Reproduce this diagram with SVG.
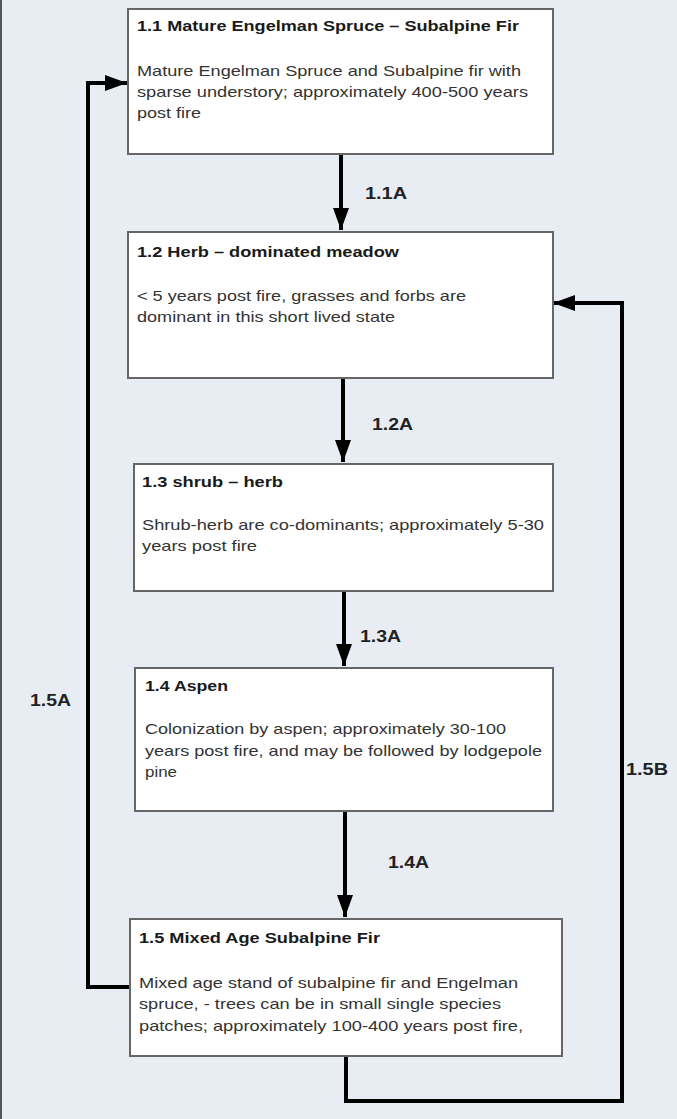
<svg xmlns="http://www.w3.org/2000/svg" width="677" height="1119" viewBox="0 0 677 1119">
<defs>
<marker id="ah" viewBox="0 0 11 8" refX="11" refY="4" markerWidth="5.5" markerHeight="4" markerUnits="strokeWidth" orient="auto">
<path d="M0,0 L11,4 L0,8 z" fill="#000"/>
</marker>
<style>
.box{fill:#ffffff;stroke:#666;stroke-width:2}
.t{font-family:"Liberation Sans",Arial,sans-serif;font-size:15px;font-weight:bold;fill:#1a1a1a}
.b{font-family:"Liberation Sans",Arial,sans-serif;font-size:15px;fill:#333}
.lbl{font-family:"Liberation Sans",Arial,sans-serif;font-size:16px;font-weight:bold;fill:#222}
.c{fill:none;stroke:#000;stroke-width:4}
</style>
</defs>
<rect x="0" y="0" width="677" height="1119" fill="#e8ecf3"/>
<line x1="1" y1="0" x2="1" y2="1119" stroke="#555" stroke-width="2"/>
<g id="connectors">
<path class="c" d="M341,154 V230" marker-end="url(#ah)"/>
<path class="c" d="M343,378 V462" marker-end="url(#ah)"/>
<path class="c" d="M344,591 V666" marker-end="url(#ah)"/>
<path class="c" d="M345,811 V917" marker-end="url(#ah)"/>
<path class="c" d="M130,987 H88 V83 H127" marker-end="url(#ah)"/>
<path class="c" d="M346,1056 V1101 H622 V303 H553" marker-end="url(#ah)"/>
<text class="lbl" x="365" y="199" textLength="42" lengthAdjust="spacingAndGlyphs">1.1A</text>
<text class="lbl" x="372" y="430" textLength="41" lengthAdjust="spacingAndGlyphs">1.2A</text>
<text class="lbl" x="360" y="642" textLength="41" lengthAdjust="spacingAndGlyphs">1.3A</text>
<text class="lbl" x="388" y="868" textLength="41" lengthAdjust="spacingAndGlyphs">1.4A</text>
<text class="lbl" x="30" y="706" textLength="41" lengthAdjust="spacingAndGlyphs">1.5A</text>
<text class="lbl" x="626" y="775" textLength="42" lengthAdjust="spacingAndGlyphs">1.5B</text>
</g>
<g id="n11">
<rect class="box" x="128" y="9" width="425" height="145"/>
<text class="t" x="137" y="31" textLength="382" lengthAdjust="spacingAndGlyphs">1.1 Mature Engelman Spruce – Subalpine Fir</text>
<text class="b" x="137" y="76" textLength="384" lengthAdjust="spacingAndGlyphs">Mature Engelman Spruce and Subalpine fir with</text>
<text class="b" x="137" y="97" textLength="391" lengthAdjust="spacingAndGlyphs">sparse understory; approximately 400-500 years</text>
<text class="b" x="137" y="118" textLength="64" lengthAdjust="spacingAndGlyphs">post fire</text>
</g>
<g id="n12">
<rect class="box" x="128" y="232" width="425" height="146"/>
<text class="t" x="137" y="257" textLength="262" lengthAdjust="spacingAndGlyphs">1.2 Herb – dominated meadow</text>
<text class="b" x="137" y="301" textLength="329" lengthAdjust="spacingAndGlyphs">&lt; 5 years post fire, grasses and forbs are</text>
<text class="b" x="137" y="322" textLength="258" lengthAdjust="spacingAndGlyphs">dominant in this short lived state</text>
</g>
<g id="n13">
<rect class="box" x="134" y="464" width="419" height="127"/>
<text class="t" x="142" y="487" textLength="141" lengthAdjust="spacingAndGlyphs">1.3 shrub – herb</text>
<text class="b" x="142" y="530" textLength="402" lengthAdjust="spacingAndGlyphs">Shrub-herb are co-dominants; approximately 5-30</text>
<text class="b" x="142" y="551" textLength="115" lengthAdjust="spacingAndGlyphs">years post fire</text>
</g>
<g id="n14">
<rect class="box" x="135" y="668" width="418" height="143"/>
<text class="t" x="145" y="691" textLength="83" lengthAdjust="spacingAndGlyphs">1.4 Aspen</text>
<text class="b" x="145" y="734" textLength="361" lengthAdjust="spacingAndGlyphs">Colonization by aspen; approximately 30-100</text>
<text class="b" x="145" y="756" textLength="397" lengthAdjust="spacingAndGlyphs">years post fire, and may be followed by lodgepole</text>
<text class="b" x="145" y="777" textLength="32" lengthAdjust="spacingAndGlyphs">pine</text>
</g>
<g id="n15">
<rect class="box" x="130" y="919" width="432" height="137"/>
<text class="t" x="139" y="943" textLength="241" lengthAdjust="spacingAndGlyphs">1.5 Mixed Age Subalpine Fir</text>
<text class="b" x="139" y="988" textLength="379" lengthAdjust="spacingAndGlyphs">Mixed age stand of subalpine fir and Engelman</text>
<text class="b" x="139" y="1009" textLength="362" lengthAdjust="spacingAndGlyphs">spruce, - trees can be in small single species</text>
<text class="b" x="139" y="1031" textLength="384" lengthAdjust="spacingAndGlyphs">patches; approximately  100-400 years post fire,</text>
</g>
</svg>
